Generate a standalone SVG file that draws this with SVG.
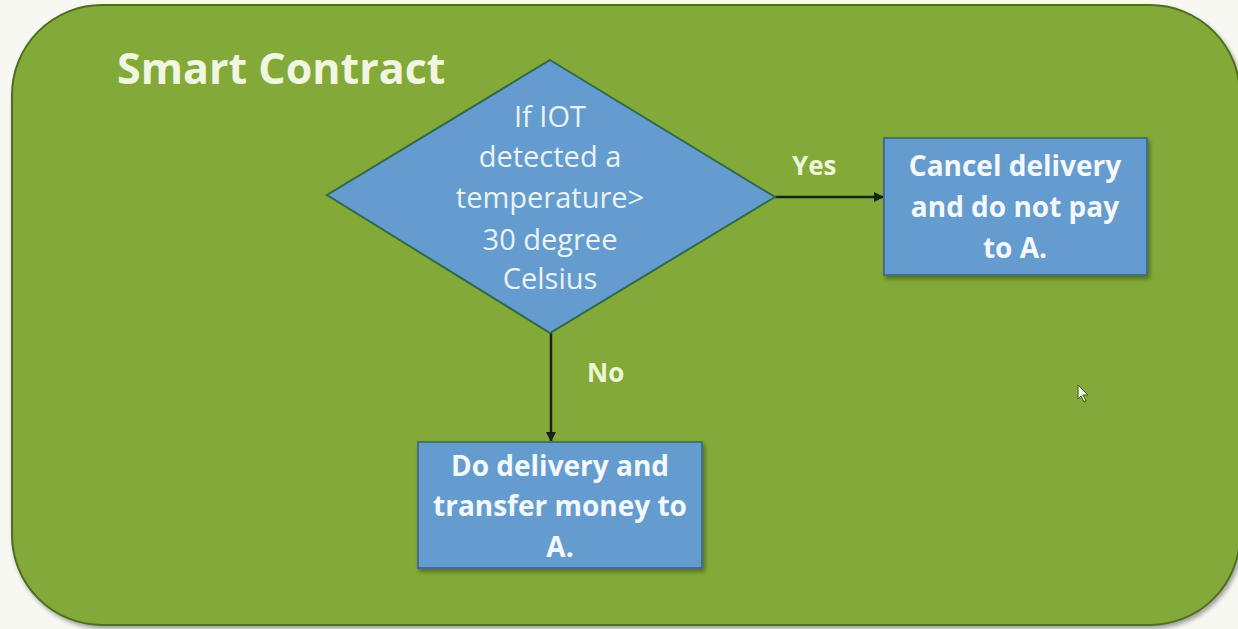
<svg xmlns="http://www.w3.org/2000/svg" width="1238" height="629" viewBox="0 0 1238 629">
  <defs>
    <style>
      .title { font-family: "Open Sans", "Liberation Sans", sans-serif; font-weight: bold; font-size: 43px; fill: #f0f6e0; }
      .dtext { font-family: "Open Sans", "Liberation Sans", sans-serif; font-size: 29px; fill: #eaf2f4; text-anchor: middle; }
      .btext { font-family: "Open Sans", "Liberation Sans", sans-serif; font-weight: bold; font-size: 28px; fill: #f4f8fa; text-anchor: middle; }
      .label { font-family: "Open Sans", "Liberation Sans", sans-serif; font-weight: bold; font-size: 26px; fill: #eef6d8; }
      .box { fill: #659ccf; stroke: #3f6e8c; stroke-width: 2; }
      .edge { stroke: #17240f; stroke-width: 2.5; fill: none; marker-end: url(#arrow); }
    </style>
    <marker id="arrow" viewBox="0 0 10 10" refX="10" refY="5" markerWidth="4" markerHeight="4" orient="auto">
      <path d="M0,0 L10,5 L0,10 z" fill="#17240f"/>
    </marker>
    <filter id="shadow" x="-5%" y="-5%" width="115%" height="115%">
      <feDropShadow dx="2" dy="3" stdDeviation="2" flood-color="#000" flood-opacity="0.35"/>
    </filter>
  </defs>
  <rect x="0" y="0" width="1238" height="629" fill="#f8f8f3"/>
  <g id="container">
    <rect x="12" y="5" width="1228" height="620" rx="90" ry="90" fill="#83aa38" stroke="#4e6e22" stroke-width="2" filter="url(#shadow)"/>
    <text class="title" x="117" y="84">Smart Contract</text>
  </g>
  <g id="connectors">
    <line class="edge" x1="775" y1="197" x2="884" y2="197"/>
    <line class="edge" x1="551" y1="333" x2="551" y2="442"/>
    <text class="label" x="792" y="175">Yes</text>
    <text class="label" x="587" y="382">No</text>
  </g>
  <g id="decision">
    <polygon points="550,60 775,197 550,333 327,195" fill="#659ccf" stroke="#2f6a4a" stroke-width="2"/>
    <text class="dtext" x="550" y="127">If IOT</text>
    <text class="dtext" x="550" y="167">detected a</text>
    <text class="dtext" x="550" y="208">temperature&gt;</text>
    <text class="dtext" x="550" y="250">30 degree</text>
    <text class="dtext" x="550" y="289">Celsius</text>
  </g>
  <g id="cancel">
    <rect class="box" x="884" y="138" width="263" height="137" filter="url(#shadow)"/>
    <text class="btext" x="1015" y="176">Cancel delivery</text>
    <text class="btext" x="1015" y="217">and do not pay</text>
    <text class="btext" x="1015" y="258">to A.</text>
  </g>
  <g id="deliver">
    <rect class="box" x="418" y="442" width="284" height="126" filter="url(#shadow)"/>
    <text class="btext" x="560" y="476">Do delivery and</text>
    <text class="btext" x="560" y="516">transfer money to</text>
    <text class="btext" x="560" y="557">A.</text>
  </g>
  <g id="cursor">
    <polygon points="1078,385 1078,399 1081,396 1084,402 1086,401 1083,395 1088,395" fill="#eef4e0" stroke="#3d5a1c" stroke-width="1"/>
  </g>
</svg>
